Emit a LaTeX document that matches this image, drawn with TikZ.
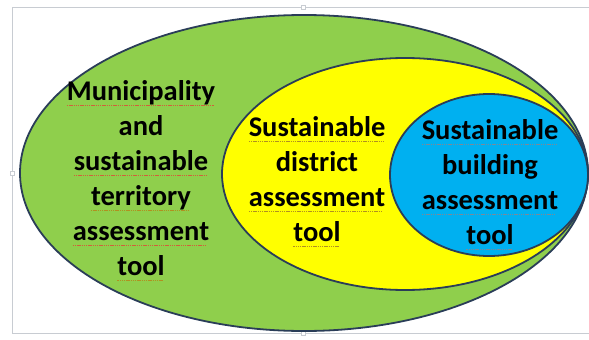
\documentclass[tikz,border=0pt]{standalone}
\usepackage{fontspec}
\setmainfont{Carlito}
\usepackage{xcolor}
\definecolor{outline}{HTML}{2A3D58}
\definecolor{outerfill}{HTML}{8FCF4C}
\definecolor{middlefill}{HTML}{FFFF00}
\definecolor{innerfill}{HTML}{00B0F0}
\definecolor{framegray}{HTML}{C8CCD2}
\definecolor{spellred}{HTML}{D0603A}
\definecolor{spellgold}{HTML}{B09020}
\definecolor{spellgray}{HTML}{7A8A9A}
% dotted proofing mark under a word
\newsavebox\spellbox
\newcommand\spellmark[2][spellred]{\sbox\spellbox{#2}%
  \rlap{\textcolor{#1}{\hbox to \wd\spellbox{\leaders\hbox{\rule[-5pt]{1.4pt}{0.9pt}\kern0.8pt}\hfill}}}%
  \usebox\spellbox}
\tikzset{
  zone/.style={
    draw=outline,
    line width=1.8pt
  },
  zonetext/.style={
    font=\bfseries\fontsize{28.5}{35}\selectfont,
    text=black,
    align=center,
    inner sep=0pt
  },
  handle/.style={
    draw=framegray,
    fill=white,
    line width=0.6pt,
    minimum size=4pt,
    inner sep=0pt
  }
}

\begin{document}
\begin{tikzpicture}[x=1pt, y=-1pt]
\useasboundingbox (0,0) rectangle (589,340);
\clip (0,0) rectangle (589,340);

% frame
\draw[framegray, line width=0.8pt] (12,7) rectangle (600,333);
\node[handle] (topgrip) at (303,7) {};
\node[handle] (leftgrip) at (12,173) {};
\node[handle] (bottomgrip) at (303,333) {};

% nested zones
\draw[zone, fill=outerfill] (304,173) ellipse [x radius=284pt, y radius=158pt];
\draw[zone, fill=middlefill] (405,174) ellipse [x radius=183pt, y radius=116pt];
\draw[zone, fill=innerfill] (489,175) ellipse [x radius=99pt, y radius=81pt];

% labels
\node[zonetext] (territory) at (141,180.5)
  {\spellmark{Municipality}\\and\\\spellmark{sustainable}\\\spellmark[spellgold]{territory}\\\spellmark{assessment}\\\spellmark[spellgold]{tool}};
\node[zonetext] (district) at (317,181.5)
  {\spellmark[spellgold]{Sustainable}\\district\\\spellmark[spellgold]{assessment}\\\spellmark[spellgold]{tool}};
\node[zonetext] (building) at (490,184.5)
  {\spellmark[spellgray]{Sustainable}\\building\\\spellmark[spellgray]{assessment}\\\spellmark[spellgray]{tool}};

\end{tikzpicture}
\end{document}
